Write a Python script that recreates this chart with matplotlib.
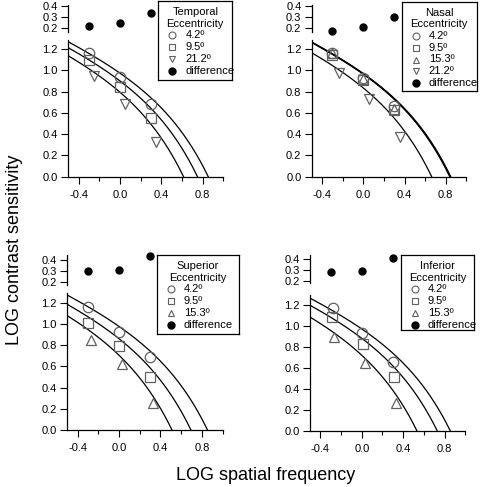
import numpy as np
import matplotlib
matplotlib.use("Agg")
import matplotlib.pyplot as plt

plt.rcParams['font.family'] = ['Liberation Sans', 'DejaVu Sans']

# ---------------- data ----------------
diff_x = [-0.3, 0.0, 0.3]

# Temporal
temporal_ecc = ['4.2º', '9.5º', '21.2º']
temporal_x = [[-0.3, 0.0, 0.3], [-0.3, 0.0, 0.3], [-0.25, 0.05, 0.35]]
temporal_y = [[1.16, 0.935, 0.68], [1.10, 0.84, 0.55], [0.95, 0.68, 0.33]]
temporal_shift = [0.0, -0.104, -0.239]
temporal_diff = [0.22, 0.245, 0.335]

# Nasal
nasal_ecc = ['4.2º', '9.5º', '15.3º', '21.2º']
nasal_x = [[-0.3, 0.0, 0.3], [-0.3, 0.0, 0.3], [-0.3, 0.0, 0.3], [-0.24, 0.06, 0.36]]
nasal_y = [[1.16, 0.93, 0.67], [1.15, 0.91, 0.63], [1.16, 0.92, 0.64], [0.98, 0.73, 0.37]]
nasal_shift = [-0.005, -0.015, -0.01, -0.19]
nasal_diff = [0.175, 0.21, 0.295]

# Superior
superior_ecc = ['4.2º', '9.5º', '15.3º']
superior_x = [[-0.3, 0.0, 0.3], [-0.3, 0.0, 0.3], [-0.27, 0.03, 0.33]]
superior_y = [[1.155, 0.925, 0.685], [1.01, 0.79, 0.50], [0.85, 0.62, 0.25]]
superior_shift = [0.0, -0.16, -0.343]
superior_diff = [0.30, 0.312, 0.437]

# Inferior
inferior_ecc = ['4.2º', '9.5º', '15.3º']
inferior_x = [[-0.28, 0.0, 0.3], [-0.29, 0.01, 0.31], [-0.27, 0.03, 0.33]]
inferior_y = [[1.175, 0.94, 0.662], [1.088, 0.832, 0.518], [0.90, 0.653, 0.263]]
inferior_shift = [0.0, -0.126, -0.322]
inferior_diff = [0.279, 0.294, 0.408]

# fitted CSF shape: log CS = A + B*x - C*10**x  (x = log SF), shifted per eccentricity
fit_A, fit_B, fit_C = 1.0696, -0.4606, 0.0946

marker_map = {'4.2º': 'o', '9.5º': 's', '15.3º': '^', '21.2º': 'v'}
MGRAY = '#606060'

W, H = 480, 487
fig = plt.figure(figsize=(W / 100, H / 100), dpi=100)


def box(l, t, r, b):
    return [l / W, 1 - b / H, (r - l) / W, (b - t) / H]


def style_main(ax, ylim):
    ax.set_xlim(-0.5, 1.0)
    ax.set_ylim(*ylim)
    for s in ['top', 'right']:
        ax.spines[s].set_visible(False)
    for s in ['left', 'bottom']:
        ax.spines[s].set_linewidth(0.9)
    ax.set_xticks([-0.4, 0.0, 0.4, 0.8])
    ax.set_xticklabels(['-0.4', '0.0', '0.4', '0.8'])
    ax.set_xticks([-0.2, 0.2, 0.6, 1.0], minor=True)
    ax.set_yticks([0.0, 0.2, 0.4, 0.6, 0.8, 1.0, 1.2])
    ax.set_yticklabels(['0.0', '0.2', '0.4', '0.6', '0.8', '1.0', '1.2'])
    ax.tick_params(which='major', direction='out', length=5, width=0.8, labelsize=8, pad=2.5)
    ax.tick_params(axis='x', which='major', pad=4.5)
    ax.tick_params(which='minor', direction='out', length=3, width=0.8)
    ax.patch.set_alpha(0)


def style_top(ax, ylim):
    ax.set_xlim(-0.5, 1.0)
    ax.set_ylim(*ylim)
    for s in ['top', 'right', 'bottom']:
        ax.spines[s].set_visible(False)
    ax.spines['left'].set_linewidth(0.9)
    ax.set_xticks([])
    ax.set_yticks([0.2, 0.3, 0.4])
    ax.set_yticklabels(['0.2', '0.3', '0.4'])
    ax.tick_params(direction='out', length=5, width=0.8, labelsize=8, pad=2.5)
    ax.patch.set_alpha(0)


def legend_box(lbox, name, ecc):
    l, t, r, b = lbox
    lax = fig.add_axes(box(l, t, r, b))
    lax.set_xlim(0, r - l)
    lax.set_ylim(b - t, 0)
    lax.set_xticks([])
    lax.set_yticks([])
    for s in lax.spines.values():
        s.set_linewidth(0.9)
        s.set_color('black')
    lax.set_facecolor('white')
    cx = (r - l) / 2
    y = 11.0
    step = 11.7
    for line in [name, 'Eccentricity']:
        lax.text(cx, y, line, ha='center', va='center', fontsize=8)
        y += step
    for e in ecc:
        lax.plot([14], [y], ls='none', marker=marker_map[e], ms=5, mfc='none',
                 mec=MGRAY, mew=0.8, clip_on=False)
        lax.text(27, y, e, ha='left', va='center', fontsize=8)
        y += step
    lax.plot([14], [y], ls='none', marker='o', ms=5, color='black', clip_on=False)
    lax.text(27, y, 'difference', ha='left', va='center', fontsize=8)


def panel(main_box, top_box, main_ylim, top_ylim, name, ecc, xs, ys, shifts, diff, lbox):
    ax = fig.add_axes(box(*main_box))
    style_main(ax, main_ylim)
    xc = np.linspace(-0.5, 1.0, 400)
    for s in shifts:
        yc = fit_A + fit_B * (xc - s) - fit_C * 10 ** (xc - s)
        ax.plot(xc, yc, color='black', lw=0.9, zorder=2)
    for e, x, y in zip(ecc, xs, ys):
        ax.plot(x, y, ls='none', marker=marker_map[e], ms=7.5, mfc='none',
                mec=MGRAY, mew=0.9, zorder=3, clip_on=False)
    axt = fig.add_axes(box(*top_box))
    style_top(axt, top_ylim)
    axt.plot(diff_x, diff, ls='none', marker='o', ms=5, color='black', clip_on=False)
    legend_box(lbox, name, ecc)
    return ax


panel((68.3, 40, 223.3, 176.7), (68.3, 5, 223.3, 32), (0, 1.287), (0.164, 0.409),
      'Temporal', temporal_ecc, temporal_x, temporal_y, temporal_shift, temporal_diff,
      (158.3, 1, 232.3, 80))
panel((311.8, 40, 466.3, 176.7), (311.8, 5, 466.3, 31.7), (0, 1.287), (0.164, 0.409),
      'Nasal', nasal_ecc, nasal_x, nasal_y, nasal_shift, nasal_diff,
      (401.7, 1.7, 476.7, 90.7))
panel((67.3, 293.3, 222.6, 430), (67.3, 255, 222.6, 285), (0, 1.287), (0.17, 0.446),
      'Superior', superior_ecc, superior_x, superior_y, superior_shift, superior_diff,
      (156.7, 255, 239, 334))
panel((310, 295, 465.3, 430.7), (310, 255, 465.3, 283.3), (0, 1.30), (0.179, 0.44),
      'Inferior', inferior_ecc, inferior_x, inferior_y, inferior_shift, inferior_diff,
      (401, 255, 474.3, 330))

fig.text(266 / W, 1 - 476 / H, 'LOG spatial frequency', ha='center', va='center', fontsize=13)
fig.text(15 / W, 1 - 250 / H, 'LOG contrast sensitivity', ha='center', va='center',
         rotation=90, fontsize=13)

fig.savefig('out.png', dpi=100)
